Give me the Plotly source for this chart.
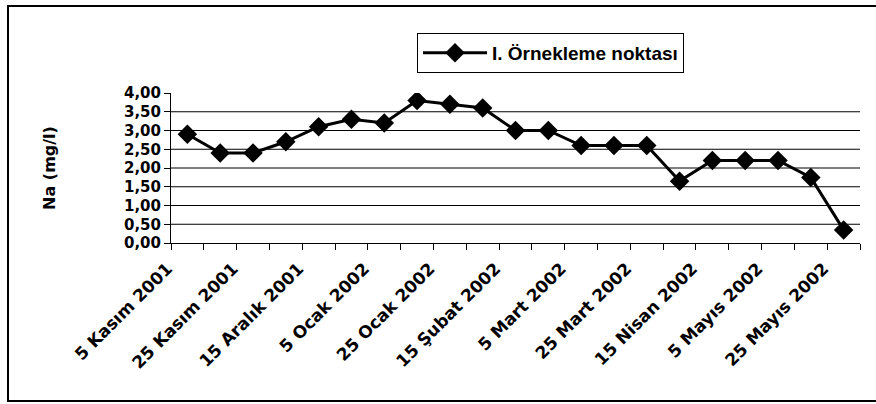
import plotly.graph_objects as go

dates = ["5 Kasım 2001", "15 Kasım 2001", "25 Kasım 2001", "5 Aralık 2001",
         "15 Aralık 2001", "25 Aralık 2001", "5 Ocak 2002", "15 Ocak 2002",
         "25 Ocak 2002", "5 Şubat 2002", "15 Şubat 2002", "25 Şubat 2002",
         "5 Mart 2002", "15 Mart 2002", "25 Mart 2002", "5 Nisan 2002",
         "15 Nisan 2002", "25 Nisan 2002", "5 Mayıs 2002", "15 Mayıs 2002",
         "25 Mayıs 2002"]
na_values = [2.9, 2.4, 2.4, 2.7, 3.1, 3.3, 3.2, 3.8, 3.7, 3.6, 3.0, 3.0,
             2.6, 2.6, 2.6, 1.65, 2.2, 2.2, 2.2, 1.75, 0.35]
series_name = "I. Örnekleme noktası"
y_ticks = [0, 0.5, 1.0, 1.5, 2.0, 2.5, 3.0, 3.5, 4.0]
y_ticktext = ["0,00", "0,50", "1,00", "1,50", "2,00", "2,50", "3,00", "3,50", "4,00"]
y_grid = [0.5, 1.0, 1.5, 2.0, 2.5, 3.0, 3.5]

idx = list(range(len(dates)))
label_idx = idx[::2]
label_text = [dates[i] for i in label_idx]

fig = go.Figure()
fig.add_trace(go.Scatter(
    x=idx, y=na_values, mode="lines+markers", name=series_name,
    line=dict(color="black", width=3),
    marker=dict(symbol="diamond", size=15, color="black"),
    showlegend=True,
))

W, H = 876, 404
L, R, T, B = 171, 16, 93, 161
pw, ph = W - L - R, H - T - B

def px_x(p):
    return (p - L) / pw

def px_y(p):
    return (H - B - p) / ph

# grid lines
for g in y_grid:
    fig.add_shape(type="line", xref="paper", yref="y", x0=0, x1=1, y0=g, y1=g,
                  line=dict(color="black", width=1), layer="below")

# outer frame (left, top, bottom)
fig.add_shape(type="rect", xref="paper", yref="paper",
              x0=px_x(8), x1=px_x(890), y0=px_y(401), y1=px_y(6),
              line=dict(color="black", width=2))

fig.update_layout(
    width=W, height=H,
    margin=dict(l=L, r=R, t=T, b=B),
    paper_bgcolor="white", plot_bgcolor="white",
    font=dict(family="DejaVu Sans", color="black"),
    showlegend=True,
    legend=dict(
        x=px_x(417), y=px_y(33), xanchor="left", yanchor="top",
        bordercolor="black", borderwidth=1, bgcolor="white",
        font=dict(family="Liberation Sans", size=19, color="black", weight="bold"),
        itemwidth=64,
    ),
    xaxis=dict(
        range=[-0.5, len(dates) - 0.5],
        tickmode="array", tickvals=label_idx, ticktext=label_text,
        tickangle=-45, ticks="",
        tickfont=dict(family="DejaVu Sans", size=17, weight="bold", color="black"),
        showline=True, linecolor="black", linewidth=1,
        showgrid=False, zeroline=False,
        minor=dict(tickmode="linear", tick0=-0.5, dtick=1, ticks="outside",
                   ticklen=6, tickcolor="black", showgrid=False),
        ticklabelshift=-20,
        ticklabelstandoff=8,
    ),
    yaxis=dict(
        range=[0, 4],
        tickmode="array", tickvals=y_ticks, ticktext=y_ticktext,
        ticks="outside", ticklen=6, tickcolor="black",
        tickfont=dict(family="DejaVu Sans", size=15, weight="bold", color="black"),
        showline=True, linecolor="black", linewidth=1,
        showgrid=False, zeroline=False,
        title=dict(text="Na (mg/l)", standoff=64,
                   font=dict(family="DejaVu Sans", size=16, weight="bold", color="black")),
    ),
)

fig.write_html("out.html")
